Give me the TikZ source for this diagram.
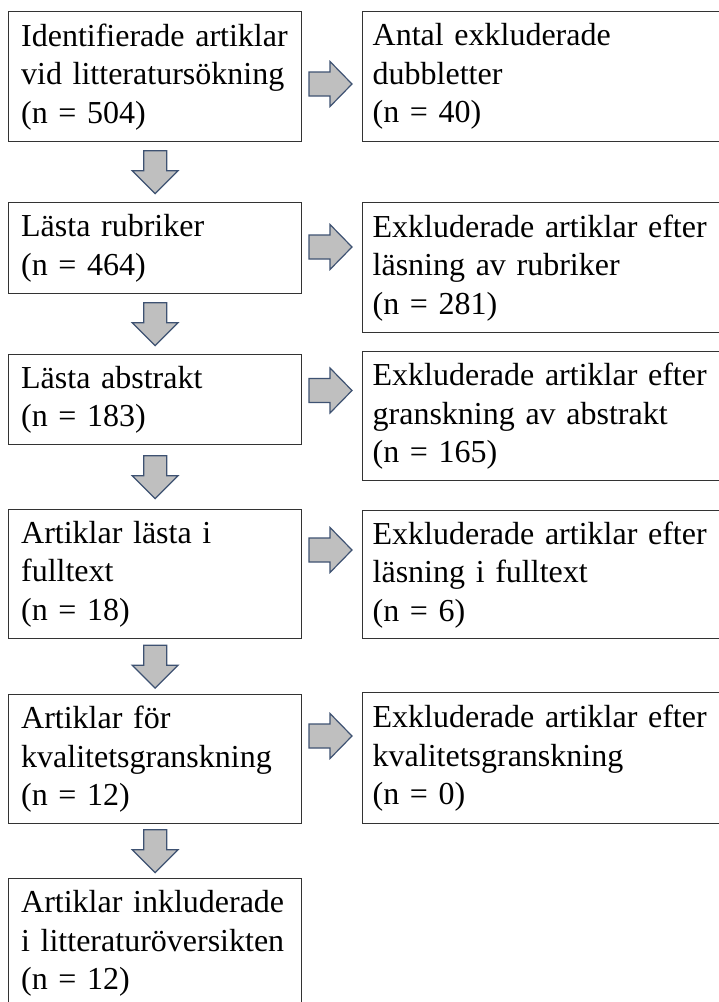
\documentclass[tikz,border=0pt]{standalone}
\usepackage{fontspec}
\setmainfont{Liberation Serif}
\usetikzlibrary{calc}
\definecolor{boxcol}{HTML}{333333}
\definecolor{arrfill}{HTML}{BFBFBF}
\definecolor{arrline}{HTML}{3E5272}
\begin{document}
\begin{tikzpicture}[x=1pt,y=-1pt,
  box/.style={draw=boxcol, line width=1.3pt, anchor=north west, align=left,
    inner ysep=0pt, font=\fontsize{32}{38.5}\selectfont},
  lbox/.style={box, inner xsep=12.5pt, text width=268pt},
  rbox/.style={box, inner xsep=10pt, text width=350pt},
  arr/.style={draw=arrline, fill=arrfill, line width=1.2pt, line join=miter}]
\useasboundingbox (0,0) rectangle (719,1002);
\clip (0,0) rectangle (719,1002);
% left column
\node[lbox, minimum height=130pt] (b1) at (8,11) {Identifierade artiklar\\vid litteratursökning\\(n = 504)};
\node[lbox, minimum height=91pt] (b2) at (8,202) {Lästa rubriker\\(n = 464)};
\node[lbox, minimum height=90pt] (b3) at (8,354) {Lästa abstrakt\\(n = 183)};
\node[lbox, minimum height=129pt] (b4) at (8,509) {Artiklar lästa i\\fulltext\\(n = 18)};
\node[lbox, minimum height=129pt] (b5) at (8,694) {Artiklar för\\kvalitetsgranskning\\(n = 12)};
\node[lbox, minimum height=130pt] (b6) at (8,878) {Artiklar inkluderade\\i litteraturöversikten\\(n = 12)};
% right column
\node[rbox, minimum height=130pt] (r1) at (362,11) {Antal exkluderade\\dubbletter\\(n = 40)};
\node[rbox, minimum height=130pt] (r2) at (362,202) {Exkluderade artiklar efter\\läsning av rubriker\\(n = 281)};
\node[rbox, minimum height=129pt] (r3) at (362,351) {Exkluderade artiklar efter\\granskning av abstrakt\\(n = 165)};
\node[rbox, minimum height=128pt] (r4) at (362,510) {Exkluderade artiklar efter\\läsning i fulltext\\(n = 6)};
\node[rbox, minimum height=131pt] (r5) at (362,692) {Exkluderade artiklar efter\\kvalitetsgranskning\\(n = 0)};
% down arrows (top centre)
\foreach \a/\b/\n in {b1/b2/1,b2/b3/2,b3/b4/3,b4/b5/4,b5/b6/5}{
  \coordinate (d\n) at ($($(\a.south)!0.5!(\b.north)$)+(0,-21.5)$);
  \path[arr, shift={(d\n)}] (-11.5,0) -- (11.5,0) -- (11.5,20) -- (23,20) -- (0,43)
    -- (-23,20) -- (-11.5,20) -- cycle;
}
% right arrows (left end, centre line)
\coordinate (h1) at (309,84);
\coordinate (h2) at (309,247);
\coordinate (h3) at (309,390.5);
\coordinate (h4) at (309,550);
\coordinate (h5) at (309,736);
\foreach \n in {1,...,5}{
  \path[arr, shift={(h\n)}] (0,-12) -- (21,-12) -- (21,-22.5) -- (43,0) -- (21,22.5)
    -- (21,12) -- (0,12) -- cycle;
}
\end{tikzpicture}
\end{document}
